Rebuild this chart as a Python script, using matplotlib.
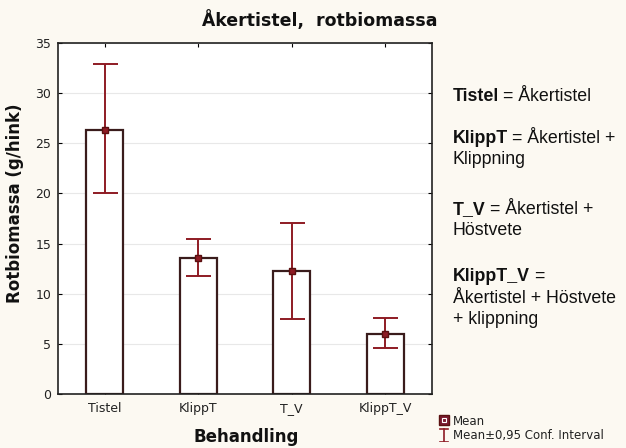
import matplotlib
matplotlib.use("Agg")
import matplotlib.pyplot as plt
import numpy as np

categories = ["Tistel", "KlippT", "T_V", "KlippT_V"]
means = [26.3, 13.6, 12.3, 6.0]
ci_low = [20.0, 11.8, 7.5, 4.6]
ci_high = [32.9, 15.5, 17.1, 7.6]
yticks = [0, 5, 10, 15, 20, 25, 30, 35]

plt.rcParams['font.family'] = ['DejaVu Sans']

fig = plt.figure(figsize=(6.26, 4.48), dpi=100, facecolor='#fcf9f2')
ax = fig.add_axes([58/626, 1-394/448, 374/626, 351/448])
ax.set_facecolor('white')

x = np.arange(len(categories))
edge = '#3a1c1c'
red = '#8e1b24'
ax.bar(x, means, width=0.4, color='white', edgecolor=edge, linewidth=1.6, zorder=2)
m = np.array(means)
yerr = [m - np.array(ci_low), np.array(ci_high) - m]
ax.errorbar(x, means, yerr=yerr, fmt='s', color=red, ecolor=red, elinewidth=1.4,
            capsize=9, capthick=1.4, markersize=5, markerfacecolor=red,
            markeredgecolor='#5a1010', zorder=3)

ax.set_xlim(-0.5, 3.5)
ax.set_ylim(0, 35)
ax.set_yticks(yticks)
ax.set_xticks(x)
ax.set_xticklabels(categories, fontsize=9, color='#222222')
ax.tick_params(axis='y', labelsize=9, direction='in', right=True, length=3, pad=5,
               labelcolor='#222222')
ax.tick_params(axis='x', direction='in', top=True, length=3, pad=6)
ax.grid(axis='y', color='#e8e8e8', linewidth=0.8, zorder=0)
for s in ax.spines.values():
    s.set_color('#222222')
    s.set_linewidth(1.2)

fig.text(15/626, 1-203/448, "Rotbiomassa (g/hink)", fontsize=12, fontweight='bold',
         rotation=90, ha='center', va='center', color='#111111')
fig.text(246/626, 1-437/448, "Behandling", fontsize=12, fontweight='bold',
         ha='center', va='center', color='#111111')
fig.text(320/626, 1-20/448, "Åkertistel,  rotbiomassa", fontsize=12.5, fontweight='bold',
         ha='center', va='center', color='#111111')

# right-side annotations
fs = 12.8
X0 = 453
renderer = fig.canvas.get_renderer()

def line(xpx, ypx, s, bold=False):
    return fig.text(xpx/626, 1-ypx/448, s, fontsize=fs, fontweight='bold' if bold else 'normal',
                    va='baseline', ha='left', color='#111111',
                    family=['Liberation Sans', 'DejaVu Sans'])

def rich(ypx, bold, rest):
    t = line(X0, ypx, bold, True)
    bb = t.get_window_extent(renderer)
    line(bb.x1 + 4, ypx, rest)

rich(101, "Tistel", "= Åkertistel")
rich(143, "KlippT", "= Åkertistel +")
line(X0, 164, "Klippning")
rich(214, "T_V", "= Åkertistel +")
line(X0, 235, "Höstvete")
rich(281, "KlippT_V", "=")
line(X0, 303, "Åkertistel + Höstvete")
line(X0, 324, "+ klippning")

# legend
fig.text(453/626, 1-421/448, "Mean", fontsize=8.5, va='center', ha='left', color='#222222')
fig.text(453/626, 1-435/448, "Mean±0,95 Conf. Interval", fontsize=8.5, va='center',
         ha='left', color='#222222')
lax = fig.add_axes([437/626, 1-442/448, 14/626, 30/448])
lax.set_xlim(0, 1); lax.set_ylim(0, 1); lax.axis('off')
lax.plot([0.5], [0.73], marker='s', markersize=7, markerfacecolor='#7a1a30',
         markeredgecolor='#5a1010')
lax.plot([0.5], [0.73], marker='s', markersize=3, markerfacecolor='#7a1a30',
         markeredgecolor='white', markeredgewidth=0.8)
lax.plot([0.5, 0.5], [0.0, 0.42], color=red, lw=1.2)
lax.plot([0.2, 0.8], [0.42, 0.42], color=red, lw=1.2)
lax.plot([0.2, 0.8], [0.0, 0.0], color=red, lw=1.2)

fig.savefig("out.png", dpi=100, facecolor=fig.get_facecolor())
